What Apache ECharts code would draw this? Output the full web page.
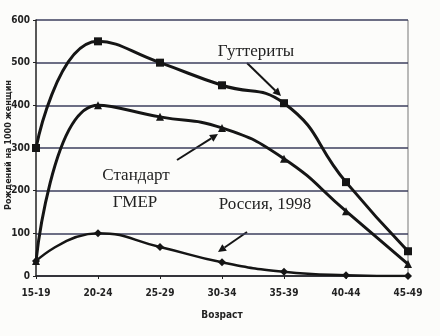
<!DOCTYPE html>
<html><head><meta charset="utf-8">
<script src="https://cdn.jsdelivr.net/npm/echarts@6/dist/echarts.min.js"></script>
<style>html,body{margin:0;padding:0;background:#fcfcfa}#c{width:440px;height:336px}</style>
</head><body><div id="c"></div>
<script>
var categories = ['15-19','20-24','25-29','30-34','35-39','40-44','45-49'];
var hutterites = [300, 550, 500, 447, 405, 220, 58];
var standard = [35, 400, 373, 347, 275, 152, 28];
var russia = [35, 100, 68, 32, 10, 2, 0];
var yTicks = [0, 100, 200, 300, 400, 500, 600];

var chart = echarts.init(document.getElementById('c'));
var lineCol = '#151515';
var serif = '"Liberation Serif","DejaVu Serif",serif';
var narrow = '"Liberation Sans Narrow","DejaVu Sans Condensed","Liberation Sans",sans-serif';
function arrow(x1,y1,x2,y2){
  var dx=x2-x1, dy=y2-y1, L=Math.sqrt(dx*dx+dy*dy), ux=dx/L, uy=dy/L;
  var hl=8, hw=4;
  var bx=x2-ux*hl, by=y2-uy*hl;
  return [
    {type:'line', shape:{x1:x1,y1:y1,x2:bx,y2:by}, style:{stroke:lineCol, lineWidth:2}},
    {type:'polygon', shape:{points:[[x2,y2],[bx-uy*hw,by+ux*hw],[bx+uy*hw,by-ux*hw]]}, style:{fill:lineCol}}
  ];
}
var graphics = [].concat(
  arrow(247,63,281,96),
  arrow(177,160,218,134),
  arrow(247,232,218,252),
  [
    {type:'text', x:256, y:52, style:{text:'Гуттериты', font:'17px '+serif, fill:'#222', align:'center', verticalAlign:'middle'}},
    {type:'text', x:136, y:176, style:{text:'Стандарт', font:'17px '+serif, fill:'#222', align:'center', verticalAlign:'middle'}},
    {type:'text', x:135, y:203, style:{text:'ГМЕР', font:'17px '+serif, fill:'#222', align:'center', verticalAlign:'middle'}},
    {type:'text', x:265, y:205, style:{text:'Россия, 1998', font:'17px '+serif, fill:'#222', align:'center', verticalAlign:'middle'}},
    {type:'text', x:9, y:145, rotation:Math.PI/2, style:{text:'Рождений на 1000 женщин', font:'bold 9px '+narrow, fill:'#222', align:'center', verticalAlign:'middle'}},
    {type:'line', shape:{x1:408,y1:20,x2:408,y2:276}, style:{stroke:'#777', lineWidth:1}}
  ]
);
chart.setOption({
  backgroundColor:'#fcfcfa',
  animation:false,
  grid:{left:36, right:32, top:20, bottom:60, containLabel:false, outerBoundsMode:'none'},
  xAxis:{type:'category', data:categories, boundaryGap:false,
    name:'Возраст', nameLocation:'middle', nameGap:34,
    nameTextStyle:{fontFamily:narrow, fontWeight:'bold', fontSize:10, color:'#222'},
    axisLine:{lineStyle:{color:'#222', width:1.5}},
    axisTick:{show:true, length:3, lineStyle:{color:'#222'}},
    axisLabel:{fontFamily:narrow, fontWeight:'bold', fontSize:10, color:'#222', margin:12}
  },
  yAxis:{type:'value', min:0, max:600, interval:100,
    axisLine:{show:true, lineStyle:{color:'#222', width:1.5}},
    axisTick:{show:true, length:3, lineStyle:{color:'#222'}},
    axisLabel:{fontFamily:narrow, fontWeight:'bold', fontSize:10, color:'#222', margin:6,
      formatter:function(v){return yTicks.indexOf(v)>=0?String(v):'';}},
    splitLine:{lineStyle:{color:'#3c3f5c', width:1.5}}
  },
  series:[
    {name:'Гуттериты', type:'line', data:hutterites, smooth:0.5, symbol:'rect', symbolSize:8,
      lineStyle:{color:lineCol, width:3}, itemStyle:{color:lineCol}},
    {name:'Стандарт ГМЕР', type:'line', data:standard, smooth:0.5, symbol:'triangle', symbolSize:8,
      lineStyle:{color:lineCol, width:3}, itemStyle:{color:lineCol}},
    {name:'Россия, 1998', type:'line', data:russia, smooth:0.5, symbol:'diamond', symbolSize:8,
      lineStyle:{color:lineCol, width:2.5}, itemStyle:{color:lineCol}}
  ],
  graphic:graphics
});
</script></body></html>
